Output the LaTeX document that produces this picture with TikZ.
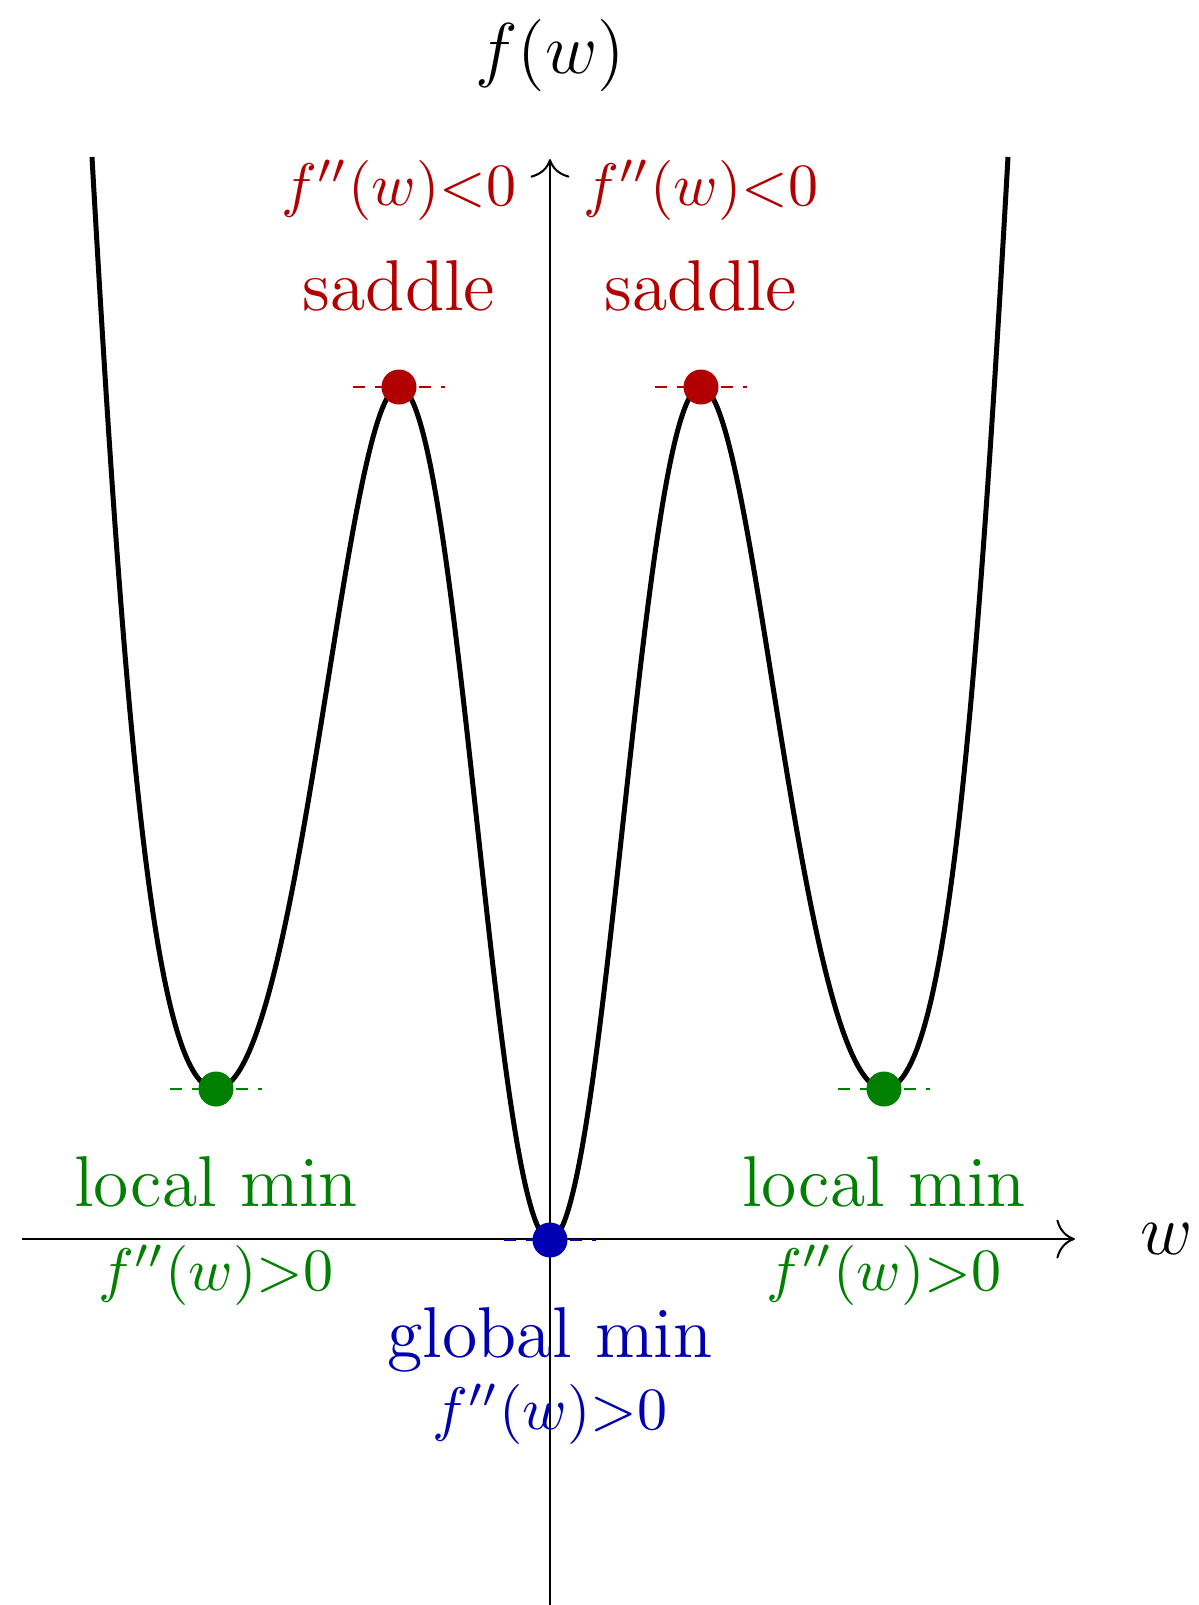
\documentclass[tikz,border=0pt]{standalone}
\usetikzlibrary{arrows.meta}
\definecolor{cred}{rgb}{0.7,0,0}
\definecolor{cgreen}{rgb}{0,0.5,0}
\definecolor{cblue}{rgb}{0,0,0.7}
\begin{document}
\begin{tikzpicture}[x=0.2pt,y=-0.2pt,
  axis/.style={line width=0.4pt,-{To[scale=1.5]}},
  curve/.style={line width=1pt,line join=round},
  dot/.style={circle,fill=#1,inner sep=0pt,minimum size=7pt},
  tang/.style={draw=#1,line width=0.5pt,dash pattern=on 2.4pt off 2pt},
  big/.style={font=\Large,anchor=base},
  small/.style={font=\normalsize,scale=1.2,anchor=base}]
\useasboundingbox (0,0) rectangle (1199,1605);
% axes
\coordinate (xl) at (22,1239);
\coordinate (xr) at (1075,1239);
\coordinate (yb) at (550,1605);
\coordinate (yt) at (550,159);
\draw[axis] (xl) -- (xr);
\draw[axis] (yb) -- (yt);
\node[font=\Large] (wl) at (1167,1239) {$w$};
\node[font=\Large] (fw) at (550,55) {$f(w)$};
% extremum points
\coordinate (tL) at (92,157);
\coordinate (pminL) at (216,1089);
\coordinate (psadL) at (399,387);
\coordinate (pg) at (550,1240);
\coordinate (psadR) at (701,387);
\coordinate (pminR) at (884,1089);
\coordinate (tR) at (1008,157);
% curve
\draw[curve] (tL) .. controls (126,757) and (156,1089) .. (pminL)
  .. controls (300,1089) and (345,387) .. (psadL)
  .. controls (459,387) and (494,1240) .. (pg)
  .. controls (606,1240) and (641,387) .. (psadR)
  .. controls (755,387) and (800,1089) .. (pminR)
  .. controls (944,1089) and (974,757) .. (tR);
% tangents
\draw[tang=cred] ([xshift=-9.2pt]psadL) -- ([xshift=9.2pt]psadL);
\draw[tang=cred] ([xshift=-9.2pt]psadR) -- ([xshift=9.2pt]psadR);
\draw[tang=cgreen] ([xshift=-9.2pt]pminL) -- ([xshift=9.2pt]pminL);
\draw[tang=cgreen] ([xshift=-9.2pt]pminR) -- ([xshift=9.2pt]pminR);
\draw[tang=cblue] ([xshift=-9.2pt]pg) -- ([xshift=9.2pt]pg);
% dots
\node[dot=cred] (sadL) at (psadL) {};
\node[dot=cred] (sadR) at (psadR) {};
\node[dot=cgreen] (minL) at (pminL) {};
\node[dot=cgreen] (minR) at (pminR) {};
\node[dot=cblue] (gmin) at (pg) {};
% labels
\node[small,text=cred] (lsL) at (399,205) {$f''(w){<}0$};
\node[big,text=cred] (sL) at (399,310) {saddle};
\node[small,text=cred] (lsR) at (701,205) {$f''(w){<}0$};
\node[big,text=cred] (sR) at (701,310) {saddle};
\node[big,text=cgreen] (lmL) at (216,1206) {local min};
\node[small,text=cgreen] (lgL) at (216,1290) {$f''(w){>}0$};
\node[big,text=cgreen] (lmR) at (884,1206) {local min};
\node[small,text=cgreen] (lgR) at (884,1290) {$f''(w){>}0$};
\node[big,text=cblue] (gm) at (550,1357) {global min};
\node[small,text=cblue] (gg) at (550,1429) {$f''(w){>}0$};
\end{tikzpicture}
\end{document}
